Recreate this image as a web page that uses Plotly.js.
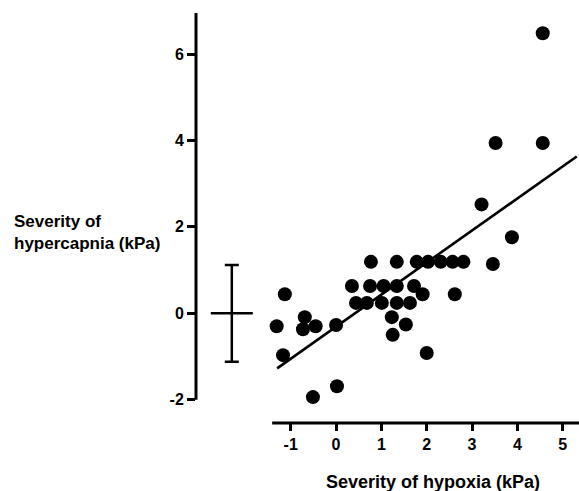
<!DOCTYPE html>
<html>
<head>
<meta charset="utf-8">
<script src="https://cdn.plot.ly/plotly-3.0.1.min.js"></script>
<style>html,body{margin:0;padding:0;background:#fff;}#chart{width:579px;height:491px;}</style>
</head>
<body>
<div id="chart"></div>
<script>
// Data
var hypoxia = [-1.13,-1.31,-1.17,-0.69,-0.73,-0.45,0.00,-0.51,0.02,0.35,0.44,0.68,0.77,0.75,1.01,1.05,1.23,1.25,1.34,1.34,1.34,1.54,1.63,1.72,1.91,2.00,1.78,2.03,2.31,2.57,2.81,2.62,3.46,3.21,3.88,3.52,4.56,4.56];
var hypercapnia = [0.44,-0.30,-0.97,-0.09,-0.37,-0.30,-0.27,-1.94,-1.69,0.63,0.24,0.24,1.19,0.63,0.24,0.63,-0.09,-0.50,1.19,0.63,0.24,-0.26,0.24,0.63,0.44,-0.92,1.19,1.19,1.19,1.19,1.19,0.44,1.14,2.52,1.76,3.94,3.94,6.48];
var fitX = [-1.30, 5.31];
var fitY = [-1.275, 3.63];
var sdX = [-2.30];
var sdMean = [0];
var sdVal = [1.12];
var xTickVals = [-1,0,1,2,3,4,5];
var xTickText = ['-1','0','1','2','3','4','5'];
var yTickVals = [-2,0,2,4,6];
var yTickText = ['-2','0','2','4','6'];
var xRange = [-3.09, 5.36];
var yRange = [-2.54, 6.95];
var xAxisStart = -1.41;
var yAxisStart = -2;

var font = {family:'Liberation Sans, Arial, sans-serif', size:16, color:'#000', weight:'bold'};

var traces = [
  {x:hypoxia, y:hypercapnia, mode:'markers', type:'scatter',
   marker:{color:'#000', size:14}, hoverinfo:'none'},
  {x:fitX, y:fitY, mode:'lines', type:'scatter',
   line:{color:'#000', width:2.6}, hoverinfo:'none'},
  {x:sdX, y:sdMean, mode:'markers', type:'scatter',
   marker:{symbol:'line-ew', size:30, color:'#000', line:{color:'#000', width:2.5}},
   error_y:{type:'data', array:sdVal, visible:true, width:7, thickness:2.5, color:'#000'},
   hoverinfo:'none'}
];

function px(v){return (v-xRange[0])/(xRange[1]-xRange[0]);}
function py(v){return (v-yRange[0])/(yRange[1]-yRange[0]);}

var layout = {
  width:579, height:491,
  margin:{l:196, r:0, t:13, b:68},
  paper_bgcolor:'#fff', plot_bgcolor:'#fff',
  showlegend:false,
  font:font,
  xaxis:{range:xRange, showgrid:false, zeroline:false, showline:false,
    ticks:'outside', ticklen:7, tickwidth:3, tickcolor:'#000',
    tickvals:xTickVals, ticktext:xTickText, tickfont:font, fixedrange:true},
  yaxis:{range:yRange, showgrid:false, zeroline:false, showline:false,
    ticks:'outside', ticklen:8, tickwidth:3, tickcolor:'#000',
    tickvals:yTickVals, ticktext:yTickText, tickfont:font, fixedrange:true},
  shapes:[
    {type:'line', xref:'paper', yref:'paper', x0:0, x1:0, y0:py(yAxisStart), y1:1,
     line:{color:'#000', width:3}, layer:'above'},
    {type:'line', xref:'paper', yref:'paper', x0:px(xAxisStart), x1:1, y0:0, y1:0,
     line:{color:'#000', width:3}, layer:'above'}
  ],
  annotations:[
    {text:'Severity of<br>hypercapnia (kPa)', xref:'paper', yref:'paper',
     x:(12-196)/383, y:(423-232)/410, xanchor:'left', yanchor:'middle', align:'left',
     showarrow:false, font:{family:font.family, size:17, color:'#000', weight:'bold'}},
    {text:'Severity of hypoxia (kPa)', xref:'paper', yref:'paper',
     x:(433-196)/383, y:(423-482)/410, xanchor:'center', yanchor:'middle',
     showarrow:false, font:{family:font.family, size:18, color:'#000', weight:'bold'}}
  ]
};

Plotly.newPlot('chart', traces, layout, {staticPlot:true, displayModeBar:false});
</script>
</body>
</html>
